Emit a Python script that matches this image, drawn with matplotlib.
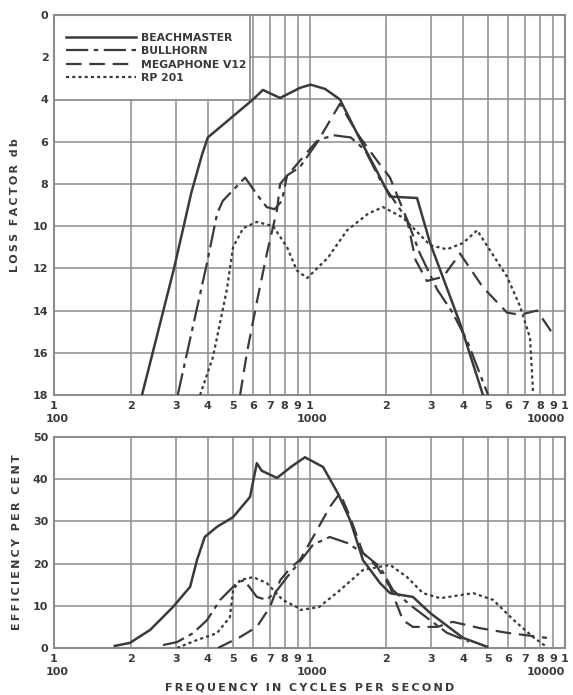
import numpy as np
import matplotlib.pyplot as plt
from matplotlib.lines import Line2D
from matplotlib.patches import Rectangle

# --- loss factor (db), top panel ---
beach_f = [221, 295, 345, 380, 400, 601, 657, 767, 918, 1010, 1150, 1316, 1578, 1800, 2065, 2636, 2965, 3882, 4774]
beach_db = [18, 12, 8.4, 6.6, 5.8, 4.0, 3.55, 3.93, 3.45, 3.3, 3.5, 4.0, 5.9, 7.2, 8.6, 8.67, 10.8, 14.6, 18]

bull_f = [305, 397, 435, 458, 502, 560, 622, 680, 730, 780, 817, 918, 1091, 1250, 1450, 1650, 1888, 2410, 2705, 3160, 3630, 4130, 5000]
bull_db = [18, 11.75, 9.4, 8.8, 8.3, 7.7, 8.5, 9.1, 9.2, 8.8, 7.6, 7.2, 5.9, 5.7, 5.8, 6.4, 7.8, 9.7, 11.3, 13.0, 14.1, 15.4, 18]

mega_f = [535, 569, 622, 681, 747, 767, 918, 1100, 1316, 1535, 1838, 2065, 2410, 2600, 2880, 3335, 3882, 4774, 5934, 6670, 7770, 8730, 9100]
mega_db = [18, 16, 13.6, 11.3, 9.2, 8.0, 6.9, 5.8, 4.2, 5.6, 6.9, 7.7, 9.7, 11.6, 12.6, 12.4, 11.3, 12.9, 14.1, 14.2, 14.0, 14.9, 15.3]

rp_f = [373, 419, 475, 502, 550, 622, 720, 817, 892, 980, 1180, 1403, 1700, 1941, 2323, 2965, 3452, 3991, 4530, 5934, 6670, 7298, 7500]
rp_db = [18, 16.2, 13.0, 11.0, 10.1, 9.8, 10.0, 11.0, 12.1, 12.46, 11.5, 10.2, 9.4, 9.1, 9.6, 10.9, 11.1, 10.8, 10.2, 12.4, 13.8, 15.3, 17.9]

# --- efficiency (per cent), bottom panel ---
beach_ef_f = [173, 198, 238, 292, 341, 363, 389, 434, 502, 585, 622, 650, 746, 850, 960, 1130, 1290, 1442, 1620, 1888, 2065, 2540, 2965, 3990, 4955]
beach_ef = [0.5, 1.2, 4.3, 9.7, 14.5, 20.9, 26.3, 28.7, 31.0, 35.8, 43.8, 42.0, 40.3, 43.0, 45.2, 42.9, 36.7, 30.3, 20.8, 15.4, 13.0, 12.1, 8.3, 2.4, 0.3]

bull_ef_f = [267, 303, 350, 397, 447, 520, 555, 622, 680, 747, 817, 918, 1033, 1200, 1403, 1620, 1888, 2122, 2500, 2965, 3452, 4200]
bull_ef = [0.7, 1.4, 3.5, 6.6, 11.4, 15.4, 16.1, 12.1, 11.4, 13.7, 16.8, 20.5, 24.5, 26.3, 24.9, 22.5, 19.2, 13.7, 10.0, 6.6, 3.6, 1.5]

mega_ef_f = [438, 535, 622, 700, 767, 837, 918, 1033, 1200, 1316, 1442, 1620, 1840, 2065, 2320, 2540, 3160, 3630, 4650, 5934, 8500]
mega_ef = [0, 2.6, 5.0, 9.7, 16, 18.8, 20.9, 26.3, 33.4, 36.7, 31, 22.5, 19.2, 14.5, 6.6, 5.0, 5.0, 6.2, 4.7, 3.6, 2.4]

rp_ef_f = [303, 363, 434, 488, 502, 535, 602, 680, 785, 892, 918, 1090, 1316, 1620, 2065, 2410, 2780, 3250, 4370, 5230, 6300, 7500, 8500]
rp_ef = [0, 1.9, 3.5, 7.3, 13.7, 16.1, 16.8, 15.4, 11.4, 9.7, 9.0, 9.7, 13.7, 18.5, 19.7, 16.8, 13.0, 11.8, 13.0, 11.4, 6.6, 2.6, 0.2]

names = ["BEACHMASTER", "BULLHORN", "MEGAPHONE V12", "RP 201"]
ink = "#3a3a3a"
grid_c = "#8c8c8c"
styles = [dict(ls="-", lw=1.8),
          dict(ls=(0, (10, 2.5, 2, 2.5)), lw=1.6),
          dict(ls=(0, (7, 3.5)), lw=1.6),
          dict(ls=(0, (1.4, 1.4)), lw=1.6)]


def spaced(s):
    # letter-spaced caption, as on the original drawing
    return "  ".join("\u2009".join(w) for w in s.split(" "))


plt.rcParams['font.family'] = ['DejaVu Sans']
fig = plt.figure(figsize=(5.73, 6.95), dpi=100)
ax1 = fig.add_axes([54/573, 1-395/695, 511/573, 380/695])
ax2 = fig.add_axes([54/573, 1-648/695, 511/573, 211/695])

ticks = []
tick_labels = []
for d in [100, 1000]:
    for k in range(1, 10):
        ticks.append(k*d)
        tick_labels.append(str(k))
ticks.append(10000)
tick_labels.append("1")
decades = [100, 1000, 10000]

for ax in (ax1, ax2):
    ax.set_xscale("log")
    ax.set_xlim(100, 10000)
    ax.set_xticks(ticks)
    ax.set_xticklabels(tick_labels, fontsize=8, fontweight="bold", color=ink)
    ax.xaxis.set_minor_locator(plt.NullLocator())
    ax.grid(True, which="major", color=grid_c, lw=1.1)
    ax.tick_params(length=0, pad=4, labelsize=8)
    for s in ax.spines.values():
        s.set_color(grid_c)
        s.set_linewidth(1.5)
    ax.set_axisbelow(True)
    for d in decades:
        ax.annotate(str(d), xy=(d, 0), xycoords=("data", "axes fraction"),
                    xytext=(2 if d < 10000 else 0, -14), textcoords="offset points",
                    ha="center" if d < 10000 else "right", va="top",
                    fontsize=8, fontweight="bold", color=ink)

ax1.set_ylim(18, 0)
ax1.set_yticks(range(0, 19, 2))
ax1.set_yticklabels([str(v) for v in range(0, 19, 2)], fontweight="bold", color=ink)
ax1.set_ylabel(spaced("LOSS FACTOR db"), fontsize=8, fontweight="bold", color=ink, labelpad=9)

ax2.set_ylim(0, 50)
ax2.set_yticks(range(0, 51, 10))
ax2.set_yticklabels([str(v) for v in range(0, 51, 10)], fontweight="bold", color=ink)
ax2.set_ylabel(spaced("EFFICIENCY PER CENT"), fontsize=8, fontweight="bold", color=ink, labelpad=8)
ax2.set_xlabel(spaced("FREQUENCY IN CYCLES PER SECOND"),
               fontsize=8, fontweight="bold", color=ink, labelpad=14)

top = [(beach_f, beach_db), (bull_f, bull_db), (mega_f, mega_db), (rp_f, rp_db)]
bot = [(beach_ef_f, beach_ef), (bull_ef_f, bull_ef), (mega_ef_f, mega_ef), (rp_ef_f, rp_ef)]
for (x, y), st in zip(top, styles):
    ax1.plot(x, y, color=ink, solid_joinstyle="round", zorder=3, **st)
for (x, y), st in zip(bot, styles):
    ax2.plot(x, y, color=ink, solid_joinstyle="round", zorder=3, **st)

# legend box (white, covers the grid) with the legend entries inside
box_w = (250 - 54) / 511
box_h = (100 - 15) / 380
ax1.add_patch(Rectangle((0, 1 - box_h), box_w, box_h, transform=ax1.transAxes,
                        facecolor="white", edgecolor=grid_c, lw=1.3, zorder=2))
handles = [Line2D([0], [0], color=ink, **st) for st in styles]
leg = ax1.legend(handles, names, loc="upper left", bbox_to_anchor=(12/511, 1 - 18/380),
                 frameon=False, handlelength=6.5, handletextpad=0.45, borderpad=0,
                 labelspacing=0.3, prop=dict(size=7.8, weight="bold"), borderaxespad=0)
leg.set_zorder(4)
for t in leg.get_texts():
    t.set_color(ink)

fig.savefig("out.png", dpi=100)
